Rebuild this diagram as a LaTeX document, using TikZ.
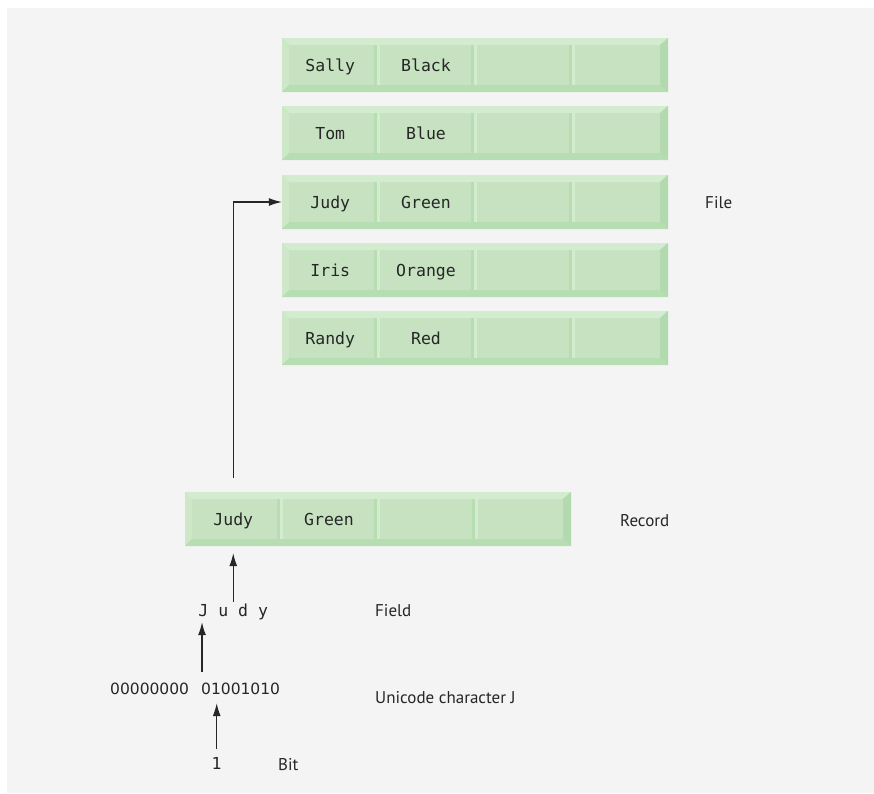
\documentclass[tikz,border=0pt]{standalone}
\usepackage{fontspec}
\usepackage{tikz}
\usetikzlibrary{arrows.meta}

\newfontfamily\monofont{DejaVu Sans Mono}
\newfontfamily\labelfont{PT Sans}
\newfontfamily\digitfont{DejaVu Sans}

\definecolor{pagegray}{HTML}{F4F4F4}
\definecolor{recface}{HTML}{C6E2C0}
\definecolor{reclight}{HTML}{D3EBCF}
\definecolor{recleft}{HTML}{CDE7C8}
\definecolor{recdark}{HTML}{B7DDB2}
\definecolor{recright}{HTML}{B3DAAE}
\definecolor{inkgray}{HTML}{262626}

% bevelled record with four fields, top left corner at (#1,#2)
\newcommand\recframe[2]{%
  \begin{scope}[shift={(#1,#2)}]
    \fill[recface] (0,0) rectangle (386,54);
    \fill[reclight] (0,0) -- (386,0) -- (378,7) -- (7,7) -- cycle;
    \fill[recleft] (0,0) -- (7,7) -- (7,47) -- (0,54) -- cycle;
    \fill[recdark] (0,54) -- (7,47) -- (378,47) -- (386,54) -- cycle;
    \fill[recright] (386,0) -- (386,54) -- (378,47) -- (378,7) -- cycle;
    \foreach \d in {95,192,290} {
      \fill[recdark] (\d-3,7) rectangle (\d,47);
      \fill[reclight] (\d,7) rectangle (\d+3,47);
    }
  \end{scope}}

\begin{document}
\begin{tikzpicture}[
    x=1pt, y=-1pt,
    >={Latex[length=13pt,width=8pt]},
    mono/.style={inner sep=0pt, text height=12pt, text depth=4pt, text=inkgray,
      font=\monofont\fontsize{16.5}{19}\selectfont},
    cell/.style={mono, minimum width=96.5pt, minimum height=54pt, text depth=0pt},
    digits/.style={anchor=base west, inner sep=0pt, text height=12pt, text depth=4pt,
      text=inkgray, font=\digitfont\fontsize{15.5}{18}\selectfont},
    lbl/.style={anchor=base west, inner sep=0pt, text=inkgray,
      font=\labelfont\fontsize{17}{20}\selectfont},
    arr/.style={->, line width=1.2pt, inkgray}
  ]
  \useasboundingbox (0,0) rectangle (874,793);
  \fill[pagegray] (7,8) rectangle (874,793);

  % the file
  \recframe{282}{38}
  \recframe{282}{106}
  \recframe{282}{175}
  \recframe{282}{243}
  \recframe{282}{311}
  \node[cell] (fsally) at (330.25,65) {Sally};
  \node[cell] (fblack) at (426,65) {Black};
  \node[cell] (ftom) at (330.25,133) {Tom};
  \node[cell] (fblue) at (426,133) {Blue};
  \node[cell] (fjudy) at (330.25,202) {Judy};
  \node[cell] (fgreen) at (426,202) {Green};
  \node[cell] (firis) at (330.25,270) {Iris};
  \node[cell] (forange) at (426,270) {Orange};
  \node[cell] (frandy) at (330.25,338) {Randy};
  \node[cell] (fred) at (426,338) {Red};
  \node[lbl] (lfile) at (705,208) {File};

  % one record
  \recframe{185}{492}
  \node[cell] (rjudy) at (233.25,519) {Judy};
  \node[cell] (rgreen) at (329,519) {Green};
  \node[lbl] (lrecord) at (620,526) {Record};

  % field, character, bit
  \node[mono, anchor=base] (field) at (233.25,616) {J u d y};
  \node[lbl] (lfield) at (375,616) {Field};
  \node[digits] (bhigh) at (110,694) {00000000};
  \node[digits] (blow) at (201,694) {01001010};
  \node[lbl] (lchar) at (375,703) {Unicode character J};
  \node[mono, anchor=base] (onebit) at (216.7,769) {1};
  \node[lbl] (lbit) at (278,770) {Bit};

  \draw[arr] ([yshift=14pt]rjudy.north) |- (fjudy.west);
  \draw[arr] ([yshift=2pt]field.north) -- ([yshift=-7pt]field.north |- rjudy.south);
  \draw[arr] ([xshift=1pt,yshift=10pt]blow.north west)
    -- ([xshift=1pt,yshift=-2pt]blow.north west |- field.south);
  \draw[arr] ([yshift=8pt]onebit.north) -- ([yshift=-5pt]onebit.north |- blow.south);
\end{tikzpicture}
\end{document}
